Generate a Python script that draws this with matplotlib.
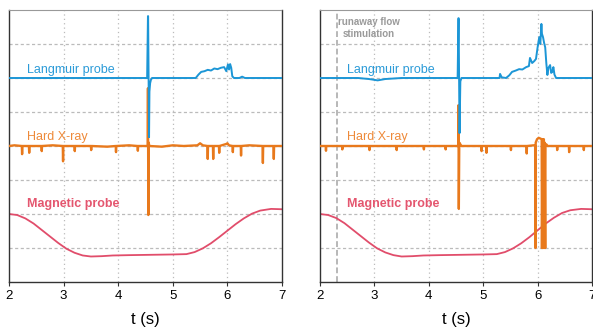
"""Two-panel time traces: Langmuir probe, hard X-ray and magnetic probe."""
import matplotlib

matplotlib.use("Agg")
import matplotlib.pyplot as plt

plt.rcParams["font.family"] = ["Liberation Sans Narrow", "Liberation Sans", "DejaVu Sans"]

# ---- data (vertical offsets in grid units, 0..8) ----
# Langmuir probe, left shot
lang_l_t = [2.0, 4.53, 4.545, 4.548, 4.565, 4.572, 4.585, 4.6, 4.62, 5.42, 5.47, 5.52, 5.58,
            5.64, 5.7, 5.76, 5.82, 5.88, 5.94, 5.98, 6.01, 6.03, 6.05, 6.07, 6.09, 6.12,
            6.22, 6.27, 6.32, 7.0]
lang_l_v = [6.0, 6.0, 7.82, 7.82, 4.26, 5.6, 5.85, 5.95, 6.0, 6.0, 6.1, 6.18, 6.2,
            6.24, 6.22, 6.28, 6.26, 6.3, 6.32, 6.2, 6.4, 6.25, 6.41, 6.3, 6.05, 6.0,
            6.0, 6.04, 6.0, 6.0]

# Langmuir probe, right shot
lang_r_t = [2.0, 2.7, 2.9, 3.06, 3.2, 3.5, 4.53, 4.545, 4.548, 4.565, 4.58, 4.6, 5.3, 5.31,
            5.34, 5.42, 5.48, 5.53, 5.6, 5.66, 5.72, 5.79, 5.84, 5.86, 5.9, 5.94, 5.97,
            6.0, 6.03, 6.05, 6.07, 6.08, 6.1, 6.12, 6.14, 6.16, 6.18, 6.2, 6.23, 6.25,
            6.27, 6.29, 6.31, 6.34, 7.0]
lang_r_v = [6.0, 6.0, 5.97, 5.93, 5.97, 6.0, 6.0, 7.76, 7.76, 4.38, 5.9, 6.0, 6.0, 6.12,
            6.02, 6.0, 6.08, 6.18, 6.22, 6.26, 6.25, 6.32, 6.35, 6.59, 6.44, 6.5, 6.56,
            6.9, 7.2, 7.0, 7.59, 7.3, 7.2, 7.03, 6.9, 6.44, 6.09, 6.3, 6.38, 6.15,
            6.18, 6.32, 6.1, 6.0, 6.0]

# Hard X-ray, left shot
hxr_l_t = [2.0, 2.1, 2.235, 2.24, 2.245, 2.365, 2.37, 2.375, 2.595, 2.6, 2.605, 2.8, 2.985,
           2.99, 2.995, 3.2, 3.205, 3.21, 3.5, 3.505, 3.51, 3.8, 3.955, 3.96, 3.965, 4.2,
           4.355, 4.36, 4.365, 4.54, 4.545, 4.552, 4.558, 4.57, 4.8, 5.0, 5.2, 5.45, 5.5,
           5.55, 5.635, 5.64, 5.645, 5.735, 5.74, 5.745, 5.845, 5.85, 5.855, 5.98, 6.0,
           6.03, 6.095, 6.1, 6.105, 6.245, 6.25, 6.255, 6.4, 6.645, 6.65, 6.655, 6.845,
           6.85, 6.855, 7.0]
hxr_l_v = [4.0, 4.02, 4.0, 3.76, 4.0, 4.0, 3.8, 4.0, 4.0, 3.85, 4.0, 4.02, 4.0,
           3.55, 4.0, 4.0, 3.85, 4.0, 4.0, 3.88, 4.0, 3.98, 4.0, 3.82, 4.0, 4.02,
           4.0, 3.86, 4.0, 4.0, 5.7, 1.97, 4.1, 4.0, 3.98, 4.02, 4.0, 4.02, 4.08,
           4.02, 4.0, 3.62, 4.0, 4.0, 3.62, 4.0, 4.0, 3.8, 4.0, 4.06, 4.08,
           4.02, 4.0, 3.82, 4.0, 4.0, 3.72, 4.0, 4.02, 4.0, 3.5, 4.0, 4.0,
           3.62, 4.0, 4.0]

# Hard X-ray, right shot
hxr_r_t = [2.0, 2.105, 2.11, 2.115, 2.405, 2.41, 2.415, 2.905, 2.91, 2.915, 3.405, 3.41,
           3.415, 3.905, 3.91, 3.915, 4.305, 4.31, 4.315, 4.54, 4.545, 4.552, 4.56, 4.6,
           4.965, 4.97, 4.975, 5.055, 5.06, 5.065, 5.505, 5.51, 5.515, 5.795, 5.8, 5.805,
           5.93, 5.955, 5.96, 5.965, 5.99, 6.02, 6.05, 6.075, 6.08, 6.09, 6.1, 6.115,
           6.12, 6.13, 6.14, 6.145, 6.16, 6.18, 6.2, 6.355, 6.36, 6.365, 6.575, 6.58,
           6.585, 6.845, 6.85, 6.855, 7.0]
hxr_r_v = [4.0, 4.0, 3.86, 4.0, 4.0, 3.9, 4.0, 4.0, 3.88, 4.0, 4.0, 3.88,
           4.0, 4.0, 3.9, 4.0, 4.0, 3.9, 4.0, 4.0, 5.2, 2.15, 4.1, 4.0,
           4.0, 3.85, 4.0, 4.0, 3.8, 4.0, 4.0, 3.88, 4.0, 4.0, 3.78, 4.0,
           4.02, 4.0, 1.0, 4.1, 4.2, 4.24, 4.22, 4.2, 1.0, 4.2, 1.0, 4.2,
           1.0, 4.1, 1.0, 4.05, 4.05, 4.0, 4.0, 4.0, 3.88, 4.0, 4.0, 3.82,
           4.0, 4.0, 3.88, 4.0, 4.0]

# Magnetic probe (both shots)
mag_l_t = [2.0, 2.15, 2.3, 2.45, 2.6, 2.75, 2.9, 3.05, 3.2, 3.35, 3.5, 3.7, 3.9, 4.2,
           4.6, 5.0, 5.25, 5.4, 5.55, 5.7, 5.85, 6.0, 6.15, 6.3, 6.45, 6.6, 6.8, 7.0]
mag_l_v = [2.0, 1.97, 1.87, 1.72, 1.53, 1.34, 1.15, 0.98, 0.86, 0.78, 0.75, 0.76, 0.78, 0.79,
           0.8, 0.81, 0.82, 0.88, 0.99, 1.14, 1.32, 1.51, 1.7, 1.87, 2.01, 2.1, 2.15, 2.14]
mag_r_t = mag_l_t
mag_r_v = [2.0, 1.97, 1.88, 1.73, 1.54, 1.35, 1.16, 0.99, 0.87, 0.79, 0.75, 0.76, 0.78, 0.79,
           0.8, 0.81, 0.82, 0.88, 0.99, 1.14, 1.32, 1.52, 1.72, 1.89, 2.03, 2.11, 2.15, 2.14]

stim_t = 2.31

BLUE = "#1c96d6"
ORANGE = "#e8791c"
PINK = "#e14d6b"

fig = plt.figure(figsize=(5.93, 3.31), dpi=100)
ax_l = fig.add_axes([9 / 593, 49 / 331, 273 / 593, 272 / 331])
ax_r = fig.add_axes([320 / 593, 49 / 331, 272 / 593, 272 / 331])

panels = [
    (ax_l, lang_l_t, lang_l_v, hxr_l_t, hxr_l_v, mag_l_t, mag_l_v, 2.33),
    (ax_r, lang_r_t, lang_r_v, hxr_r_t, hxr_r_v, mag_r_t, mag_r_v, 2.49),
]

for ax, lt, lv, ht, hv, mt, mv, label_x in panels:
    ax.set_xlim(2, 7)
    ax.set_ylim(0, 8)
    ax.set_xticks(range(2, 8))
    ax.set_yticks(range(1, 8))
    ax.tick_params(axis="y", length=0, labelleft=False)
    ax.tick_params(axis="x", length=3, width=0.8, color="#333333", labelsize=9.5, pad=3)
    for xv in range(3, 7):
        ax.axvline(xv, color="#bbbbbb", lw=0.9, ls=(0, (1, 2.5)), zorder=0)
    for yv in range(1, 8):
        ax.axhline(yv, color="#bbbbbb", lw=0.9, ls=(0, (2.5, 2)), zorder=0)
    for side in ["left", "bottom", "right"]:
        ax.spines[side].set_color("#333333")
        ax.spines[side].set_linewidth(1.0)
    ax.spines["top"].set_color("#999999")
    ax.spines["top"].set_linestyle((0, (1, 1)))

    ax.plot(mt, mv, color=PINK, lw=1.3, zorder=2)
    ax.plot(ht, hv, color=ORANGE, lw=1.7, zorder=3, solid_joinstyle="round")
    ax.plot(lt, lv, color=BLUE, lw=1.4, zorder=4)

    ax.text(label_x, 6.15, "Langmuir probe", color="#2b9bd8", fontsize=9, va="baseline")
    ax.text(label_x, 4.18, "Hard X-ray", color="#ee8a3a", fontsize=9, va="baseline")
    ax.text(label_x, 2.2, "Magnetic probe", color="#e4566f", fontsize=9,
            fontweight="bold", va="baseline")
    ax.set_xlabel("t (s)", fontsize=12, labelpad=7)

ax_r.axvline(stim_t, color="#b8b8b8", lw=1.4, ls=(0, (3, 1.5)), zorder=1)
ax_r.text(2.9, 7.47, "runaway flow\nstimulation", color="#9a9a9a", fontsize=7,
          fontweight="bold", ha="center", va="center", linespacing=1.25)

fig.savefig("out.png", dpi=100)
